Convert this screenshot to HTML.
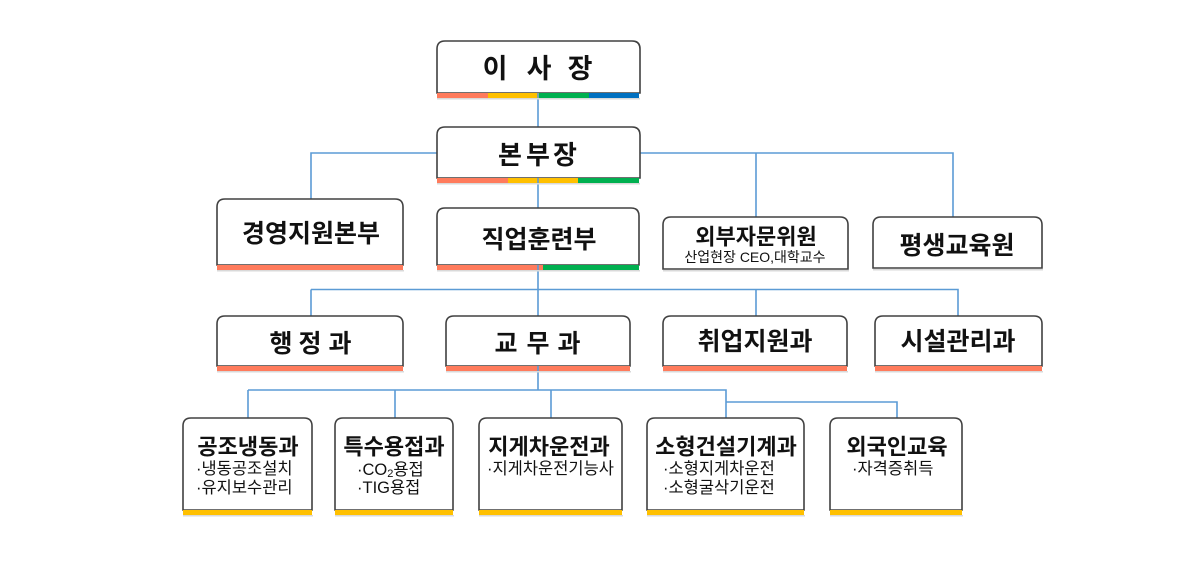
<!DOCTYPE html>
<html><head><meta charset="utf-8"><style>
html,body{margin:0;padding:0;background:#fff;}
svg{display:block;}
text{font-family:"Liberation Sans","Noto Sans CJK KR",sans-serif;fill:#111;}
.t{font-weight:700;text-anchor:middle;dominant-baseline:central;}
.s{font-size:16.5px;dominant-baseline:central;}
</style></head><body>
<svg width="1200" height="578" viewBox="0 0 1200 578" xmlns="http://www.w3.org/2000/svg">
<rect width="1200" height="578" fill="#fff"/>
<g stroke="#5B9BD5" stroke-width="1.6" fill="none">
<path d="M538 98V127"/>
<path d="M437 153H311V199"/>
<path d="M640 153H953V217M756 153V217"/>
<path d="M538 183V208"/>
<path d="M538 270V316M311 289.5H958V316M311 289.5V316M756 289.5V316"/>
<path d="M538 371V390M248 390H726V418M248 390V418M395 390V418M551 390V418M726 402H897V418"/>
</g>
<g fill="#fff" stroke="#404040" stroke-width="1.6">
<path d="M437 93V49Q437 41 445 41H632Q640 41 640 49V93Z"/>
<path d="M437 178V135Q437 127 445 127H632Q640 127 640 135V178Z"/>
<path d="M217 265V207Q217 199 225 199H395Q403 199 403 207V265Z"/>
<path d="M437 265V216Q437 208 445 208H631Q639 208 639 216V265Z"/>
<path d="M663 269V225Q663 217 671 217H840Q848 217 848 225V269Z"/>
<path d="M873 268V225Q873 217 881 217H1034Q1042 217 1042 225V268Z"/>
<path d="M217 366V324Q217 316 225 316H395Q403 316 403 324V366Z"/>
<path d="M446 366V324Q446 316 454 316H622Q630 316 630 324V366Z"/>
<path d="M663 366V324Q663 316 671 316H839Q847 316 847 324V366Z"/>
<path d="M875 366V324Q875 316 883 316H1034Q1042 316 1042 324V366Z"/>
<path d="M183 510V426Q183 418 191 418H304Q312 418 312 426V510Z"/>
<path d="M335 510V426Q335 418 343 418H445Q453 418 453 426V510Z"/>
<path d="M479 510V426Q479 418 487 418H614Q622 418 622 426V510Z"/>
<path d="M647 510V426Q647 418 655 418H796Q804 418 804 426V510Z"/>
<path d="M830 510V426Q830 418 838 418H954Q962 418 962 426V510Z"/>
</g>
<g fill="#d9d9d9">
<rect x="437" y="98" width="203" height="1.5"/>
<rect x="437" y="183" width="203" height="1.5"/>
<rect x="217" y="270" width="187" height="1.5"/>
<rect x="437" y="270" width="203" height="1.5"/>
<rect x="663" y="270" width="186" height="1.5"/>
<rect x="873" y="269" width="170" height="1.5"/>
<rect x="217" y="371" width="187" height="1.5"/>
<rect x="446" y="371" width="185" height="1.5"/>
<rect x="663" y="371" width="185" height="1.5"/>
<rect x="875" y="371" width="168" height="1.5"/>
<rect x="183" y="515" width="130" height="1.5"/>
<rect x="335" y="515" width="119" height="1.5"/>
<rect x="479" y="515" width="144" height="1.5"/>
<rect x="647" y="515" width="158" height="1.5"/>
<rect x="830" y="515" width="133" height="1.5"/>
</g>
<!-- colour bars -->
<rect x="437" y="93" width="51" height="5" fill="#FF7B5C"/>
<rect x="488" y="93" width="51" height="5" fill="#FFC000"/>
<rect x="539" y="93" width="50" height="5" fill="#00B050"/>
<rect x="589" y="93" width="50" height="5" fill="#0070C0"/>
<rect x="437" y="178" width="71" height="5" fill="#FF7B5C"/>
<rect x="508" y="178" width="70" height="5" fill="#FFC000"/>
<rect x="578" y="178" width="61" height="5" fill="#00B050"/>
<rect x="217" y="265" width="186" height="5" fill="#FF7B5C"/>
<rect x="437" y="265" width="106" height="5" fill="#FF7B5C"/>
<rect x="543" y="265" width="96" height="5" fill="#00B050"/>
<rect x="217" y="366" width="186" height="5" fill="#FF7B5C"/>
<rect x="446" y="366" width="184" height="5" fill="#FF7B5C"/>
<rect x="663" y="366" width="184" height="5" fill="#FF7B5C"/>
<rect x="875" y="366" width="167" height="5" fill="#FF7B5C"/>
<g fill="#FFC000">
<rect x="183" y="510" width="129" height="5"/>
<rect x="335" y="510" width="118" height="5"/>
<rect x="479" y="510" width="143" height="5"/>
<rect x="647" y="510" width="157" height="5"/>
<rect x="830" y="510" width="132" height="5"/>
</g>
<g stroke="#5B9BD5" stroke-width="1.6"><path d="M538 93V98M538 178V183M538 265V270M538 366V371"/></g>
<!-- titles -->
<text class="t" x="495" y="69" font-size="27">이</text>
<text class="t" x="539" y="69" font-size="27">사</text>
<text class="t" x="580" y="69" font-size="27">장</text>
<text class="t" x="510" y="155" font-size="26">본</text>
<text class="t" x="538" y="155" font-size="26">부</text>
<text class="t" x="565" y="155" font-size="26">장</text>
<text class="t" x="311" y="234" font-size="25">경영지원본부</text>
<text class="t" x="539" y="240" font-size="25">직업훈련부</text>
<text class="t" x="756" y="237" font-size="22">외부자문위원</text>
<text x="755" y="257" font-size="14" text-anchor="middle" dominant-baseline="central">산업현장 CEO,대학교수</text>
<text class="t" x="957" y="246" font-size="25">평생교육원</text>
<text class="t" x="281" y="344" font-size="25">행</text>
<text class="t" x="310" y="344" font-size="25">정</text>
<text class="t" x="340" y="344" font-size="25">과</text>
<text class="t" x="506" y="344" font-size="25">교</text>
<text class="t" x="538" y="344" font-size="25">무</text>
<text class="t" x="569" y="344" font-size="25">과</text>
<text class="t" x="755" y="342" font-size="25">취업지원과</text>
<text class="t" x="958" y="342" font-size="25">시설관리과</text>
<text class="t" x="248" y="447" font-size="22">공조냉동과</text>
<text class="t" x="394" y="447" font-size="22">특수용접과</text>
<text class="t" x="549" y="447" font-size="22">지게차운전과</text>
<text class="t" x="726" y="447" font-size="22">소형건설기계과</text>
<text class="t" x="897" y="447" font-size="22">외국인교육</text>
<!-- sub items -->
<text class="s" x="196" y="469">·냉동공조설치</text>
<text class="s" x="196" y="488">·유지보수관리</text>
<text class="s" x="357" y="470">·CO<tspan font-size="11" dy="4">2</tspan><tspan dy="-4">용접</tspan></text>
<text class="s" x="357" y="488">·TIG용접</text>
<text class="s" x="487" y="469">·지게차운전기능사</text>
<text class="s" x="663" y="469">·소형지게차운전</text>
<text class="s" x="663" y="488">·소형굴삭기운전</text>
<text class="s" x="852" y="469">·자격증취득</text>
</svg>
</body></html>
